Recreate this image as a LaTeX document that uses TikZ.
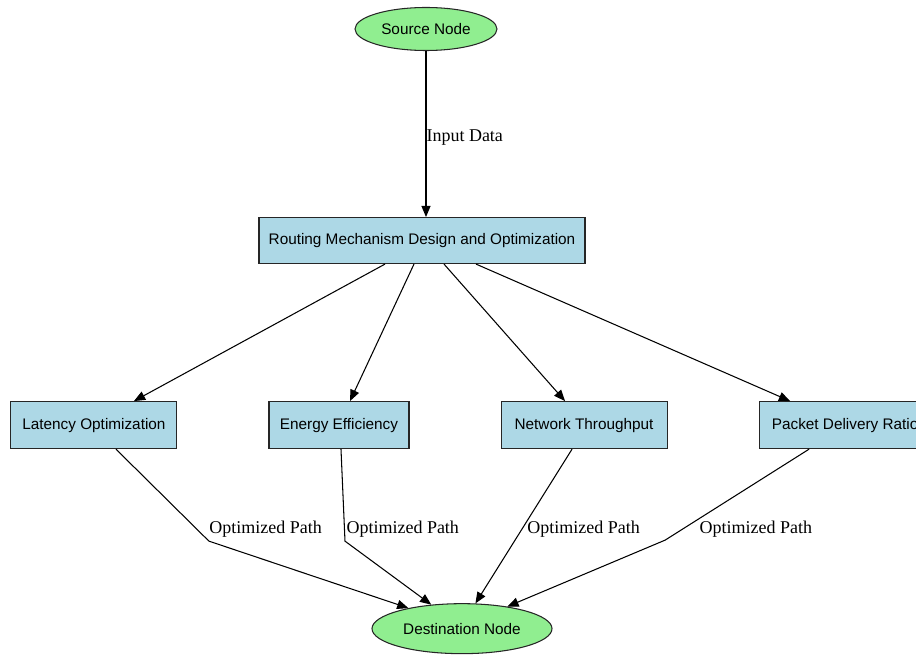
\documentclass[tikz,border=0pt]{standalone}
\usepackage{fontspec}
\setmainfont{Liberation Serif}
\setsansfont{Liberation Sans}
\usetikzlibrary{arrows.meta,positioning,calc,shapes.geometric}
\definecolor{boxblue}{HTML}{ADD8E6}
\definecolor{endgreen}{HTML}{90EE90}
\tikzset{
  blk/.style={draw=black!85,rectangle,fill=boxblue,minimum height=1.175cm,inner sep=2pt,line width=0.75pt,font=\sffamily\fontsize{10.9}{13}\selectfont},
  endblk/.style={blk,ellipse,fill=endgreen},
  arr/.style={-{Triangle[length=8pt,width=6.5pt]},line width=0.75pt},
  lbl/.style={font=\fontsize{12.8}{15}\selectfont,inner sep=0pt,anchor=west}
}
\begin{document}
\begin{tikzpicture}[node distance=3.5cm and 2.275cm]
  \useasboundingbox (-10.65,0.725) rectangle (12.25,-15.65);
  \node[endblk,minimum width=3.55cm,minimum height=1.075cm] (src) {Source Node};
  \node[blk,minimum width=8.15cm,minimum height=1.15cm,below=4.15cm of src,xshift=-0.1cm] (rout) {Routing Mechanism Design and Optimization};

  \node[blk,minimum width=4.15cm,below left=3.425cm and 2.025cm of rout] (lat) {Latency Optimization};
  \node[blk,minimum width=3.5cm,right=of lat] (ene) {Energy Efficiency};
  \node[blk,minimum width=4.15cm,right=of ene] (net) {Network Throughput};
  \node[blk,minimum width=4.3cm,right=of net] (pdr) {Packet Delivery Ratio};

  \node[endblk,minimum width=4.5cm,minimum height=1.25cm,below=3.85cm of ene,xshift=3.075cm] (dst) {Destination Node};

  \draw[arr] (src) -- (src |- rout.north) node[lbl,pos=0.52] {Input Data};
  \foreach \b/\s/\t in {lat/-0.925/1.0, ene/-0.2/0.275, net/0.55/-0.475, pdr/1.35/-1.375}
    \draw[arr] ([xshift=\s cm]rout.south) -- ([xshift=\t cm]\b.north);

  \draw[arr] ([xshift=0.55cm]lat.south) -- ++(2.325,-2.3) node[lbl,yshift=0.3cm] {Optimized Path} -- (dst.159);
  \draw[arr] ([xshift=0.05cm]ene.south) -- ++(0.1,-2.3) node[lbl,yshift=0.3cm,xshift=0.025cm] {Optimized Path} -- (dst.142);
  \draw[arr] ([xshift=-0.3cm]net.south) -- (dst.62) node[lbl,pos=0.52,xshift=0.125cm] {Optimized Path};
  \draw[arr] ([xshift=-0.9cm]pdr.south) -- ++(-3.6,-2.275) node[lbl,xshift=0.85cm,yshift=0.275cm] {Optimized Path} -- (dst.26);
\end{tikzpicture}
\end{document}
